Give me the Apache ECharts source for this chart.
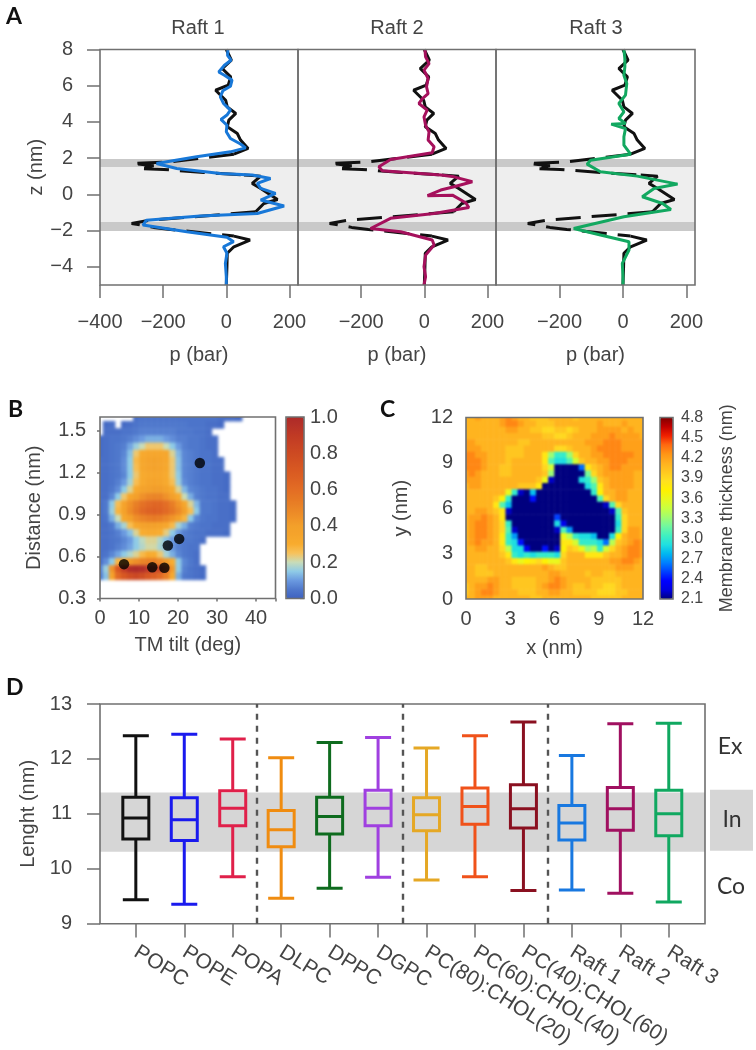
<!DOCTYPE html>
<html><head><meta charset="utf-8">
<style>html,body{margin:0;padding:0;background:#fff}#c{width:756px;height:1050px;filter:blur(0.6px)}
canvas[data-zr-dom-id="zr_-2"]{filter:blur(1.8px);clip-path:path('M100 417H275.5V598.5H100Z')}
canvas[data-zr-dom-id="zr_-1"]{filter:blur(1.1px);clip-path:path('M466 417.5H643V599H466Z')}</style>
<script src="https://cdn.jsdelivr.net/npm/echarts@6/dist/echarts.min.js"></script>
</head><body><div id="c"></div>
<script>
// ---------- Panel A : pressure profiles ----------
const raftNames = ['Raft 1','Raft 2','Raft 3'];
const raftColors = ['#1878d8','#a5105c','#12a860'];
const refZ = [8,7.41,6.95,6.49,6.03,5.75,5.2,4.83,4.47,4.1,3.73,3.36,3,2.54,2.22];
const refP = [0,16,-13,14,6,-34,-2,3,30,8,3,35,45,69,24];
const refDashZ = [2.22,1.8,1.71,1.58,1.43,1.38,1.21,1.07];
const refDashP = [24,-177,-298,-230,-277,-198,-71,56];
const refMidZ = [1.07,1.01,0.61,0.33,-0.28,-0.5,-0.96];
const refMidP = [56,109,82,109,162,119,93];
const refDash2Z = [-0.96,-1.23,-1.42,-1.6,-1.82,-1.93,-2.3];
const refDash2P = [93,-102,-240,-300,-230,-177,24];
const refLowZ = [-2.3,-2.52,-2.89,-3.25,-3.99,-5];
const refLowP = [24,75,24,3,2,0];
const raft1Z = [8,7.68,7.41,7.13,6.76,6.58,6.31,5.97,5.72,5.39,5.02,4.65,4.38,4.14,3.82,3.46,3.09,2.78,2.57,2.35,2.08,1.71,1.43,1.16,1.07,0.88,0.61,0.33,0.06,-0.31,-0.64,-1.05,-1.19,-1.42,-1.69,-2.06,-2.37,-2.61,-2.89,-3.25,-3.81,-4.54,-5];
const raft1P = [5,4,15,-6,-24,-6,18,13,-11,-19,-9,13,2,-17,2,0,13,45,61,13,-94,-221,-157,-19,82,140,98,109,156,109,183,98,-83,-253,-264,-125,2,23,-9,2,-3,0,0];
const raft2Z = [8,7.6,7.22,6.86,6.4,5.94,5.57,5.29,5.02,4.65,4.28,3.82,3.46,3,2.63,2.3,1.93,1.53,1.31,1.07,0.97,0.7,0.42,0.24,-0.07,-0.04,-0.46,-0.72,-1.05,-1.32,-1.88,-2.06,-2.52,-2.79,-3.35,-3.99,-4.54,-5];
const raft2P = [2,4,15,-1,12,7,12,-6,-17,9,-1,4,15,12,31,25,-107,-144,-133,52,94,152,94,52,10,89,131,141,31,-107,-170,-75,25,31,4,-1,4,-1];
const raft3Z = [8,7.5,7.04,6.58,6.12,5.48,5.02,4.56,4.19,3.92,3.88,3.64,3.18,2.72,2.22,1.89,1.67,1.25,1.01,0.57,0.33,-0.13,-0.5,-0.83,-1.23,-1.88,-2.24,-2.61,-3.07,-3.81,-4.54,-5];
const raft3P = [3,6,6,3,12,8,-13,3,-13,8,-37,8,3,3,24,-102,-113,-71,45,172,98,61,125,151,3,-155,-71,19,19,-2,0,0];
const raftZ = [raft1Z,raft2Z,raft3Z];
const raftP = [raft1P,raft2P,raft3P];
const zTicks = [-4,-2,0,2,4,6,8];

// ---------- Panel B : density map (percent of maximum, rows top to bottom, -1 = empty) ----------
const tiltStep = ['0.75','2.25','3.75','5.25','6.75','8.25','9.75','11.25','12.75','14.25','15.75','17.25','18.75','20.25','21.75','23.25','24.75','26.25','27.75','29.25','30.75','32.25','33.75','35.25','36.75','38.25','39.75','41.25','42.75','44.25'];
const distStep = ['1.575','1.525','1.475','1.425','1.375','1.325','1.275','1.225','1.175','1.125','1.075','1.025','0.975','0.925','0.875','0.825','0.775','0.725','0.675','0.625','0.575','0.525','0.475','0.425','0.375','0.325'];
const densityRows = [
[-1,-1,-1,-1,-1,-1,3,4,4,4,4,4,4,4,4,4,4,4,4,4,3,3,3,2],
[-1,2,3,-1,2,3,4,5,5,5,5,5,5,5,5,4,4,4,3,3,2],
[-1,3,3,3,4,4,5,6,6,6,6,6,6,5,5,5,4,4,3],
[2,3,4,4,5,6,8,10,12,12,12,10,8,6,6,5,5,4,3,3],
[2,3,4,5,6,11,16,20,24,24,24,20,15,10,6,5,5,4,3,3],
[2,3,4,5,7,14,24,32,34,34,34,34,22,13,7,6,5,4,4,3],
[3,3,4,5,8,15,27,33,36,38,36,34,24,14,7,6,5,4,4,3,3],
[3,3,4,5,8,15,26,33,36,38,36,33,24,14,7,6,5,4,4,3,3],
[3,3,4,5,7,15,24,31,33,34,34,31,24,15,7,6,5,4,4,3,3,2],
[3,3,4,6,10,17,26,32,35,36,35,32,26,16,8,6,5,4,4,3,3,2],
[3,3,5,8,15,22,32,37,40,41,41,38,32,22,13,7,6,5,4,4,3,2],
[3,3,7,15,24,34,40,45,49,50,50,45,40,32,20,12,6,5,4,4,3,3],
[3,5,15,26,36,45,52,58,62,64,64,60,53,44,34,22,13,5,5,4,3,3,2],
[3,5,16,28,38,47,55,62,66,67,66,62,56,48,40,26,15,5,5,4,3,3,2],
[3,4,12,20,33,40,46,50,53,54,53,49,44,38,28,15,7,5,4,4,3,3,2],
[3,3,5,12,17,26,33,37,40,40,38,34,27,17,12,6,5,4,4,3,3,3],
[3,3,4,6,10,14,22,30,32,32,30,23,15,10,6,5,4,4,3,3,3,2],
[3,3,4,5,7,10,15,19,22,22,18,14,10,7,5,5,4,3],
[3,3,4,6,8,11,15,18,21,21,17,13,9,6,5,4,4],
[3,4,7,11,15,18,22,27,31,30,24,17,12,7,5,4,3],
[3,8,15,28,36,42,46,50,52,52,48,42,30,15,7,5,3],
[6,16,44,72,88,98,100,98,92,86,84,68,42,15,6,4,3,2],
[5,14,36,62,72,78,82,78,72,68,62,52,32,12,5,4,3,2],
[],[],[]];
const dotTilt = [6.15,13.4,16.5,17.4,20.3,25.6];
const dotDist = [0.546,0.524,0.52,0.68,0.727,1.27];
const densityColors = ['#3f62c0','#4f78cc','#6b9ae0','#8fcbe6','#c9dcb8','#f7c25b','#f8ac2e','#f5a42b','#f3a02a','#ef9128','#ea8426','#e67824','#e36d24','#de6323','#d95a22','#d35222','#cd4a22','#c74224','#c03a24','#b63228','#ad2a28'];

// ---------- Panel C : membrane thickness (0.1 nm units, rows top to bottom) ----------
const mapCols = ['0.2','0.6','1.0','1.4','1.8','2.2','2.6','3.0','3.4','3.8','4.2','4.6','5.0','5.4','5.8','6.2','6.6','7.0','7.4','7.8','8.2','8.6','9.0','9.4','9.8','10.2','10.6','11.0','11.4','11.8'];
const mapRows = ['11.8','11.4','11.0','10.6','10.2','9.8','9.4','9.0','8.6','8.2','7.8','7.4','7.0','6.6','6.2','5.8','5.4','5.0','4.6','4.2','3.8','3.4','3.0','2.6','2.2','1.8','1.4','1.0','0.6','0.2'];
const thicknessRows = [
[41,41,42,41,41,41,42,43,42,41,41,40,40,40,41,41,41,41,40,41,41,41,41,41,41,41,41,41,41,41],
[41,41,41,41,41,41,42,43,43,42,41,41,40,40,40,41,41,41,41,41,41,41,42,41,41,41,42,41,41,41],
[41,41,41,41,41,41,41,42,42,41,41,40,40,39,39,40,40,39,40,41,41,41,42,42,42,42,41,42,41,41],
[41,41,41,41,41,41,41,41,41,41,41,41,41,40,40,39,39,40,41,41,41,42,42,42,43,42,42,42,42,41],
[42,42,41,41,41,41,41,41,41,40,40,41,41,41,41,41,41,41,41,41,42,42,42,43,43,43,42,42,42,42],
[42,42,42,41,41,41,41,40,40,40,41,41,41,41,41,39,39,40,41,41,41,42,43,43,43,43,42,42,42,42],
[43,43,42,42,41,41,41,40,40,40,41,41,41,38,33,30,30,33,39,41,41,42,42,43,43,43,43,43,42,42],
[43,43,43,42,41,41,41,40,41,41,41,41,41,38,31,29,29,31,35,40,41,41,42,42,43,43,43,42,42,42],
[43,43,43,42,41,41,40,40,41,41,41,41,41,39,35,21,21,21,21,26,38,40,41,42,43,43,42,42,42,42],
[42,43,42,41,41,41,40,40,41,41,41,41,41,40,33,21,21,21,21,21,32,39,41,42,42,42,42,42,41,41],
[42,42,42,41,41,41,41,41,41,41,41,41,40,36,22,21,21,21,21,29,30,33,40,41,42,42,42,42,41,41],
[41,42,42,41,41,41,41,41,41,40,40,40,38,21,21,21,21,21,21,21,29,31,38,41,42,42,42,42,41,41],
[41,41,41,41,41,41,41,36,30,22,21,28,21,21,21,21,21,21,21,21,21,30,37,41,41,42,42,41,41,41],
[41,41,41,41,41,40,37,30,21,21,21,24,21,21,21,21,21,21,21,21,21,21,31,39,41,42,42,41,41,41],
[41,41,41,41,41,38,31,28,21,21,21,21,21,21,21,21,21,21,21,21,21,21,21,22,31,39,41,41,41,41],
[41,41,42,42,41,40,38,22,21,21,21,21,21,21,21,21,21,21,21,21,21,21,21,21,22,31,40,41,41,41],
[41,42,42,43,42,41,38,21,21,21,21,21,21,21,21,25,21,21,21,21,21,21,21,21,21,30,39,41,41,41],
[41,42,43,43,42,41,39,30,21,21,21,21,21,21,21,29,23,21,21,21,21,21,21,21,21,29,39,41,41,41],
[41,42,43,43,42,41,39,31,22,21,21,21,21,21,21,22,31,27,21,21,21,21,21,21,21,30,39,42,42,41],
[41,42,43,43,42,41,38,30,27,21,21,21,21,21,21,21,36,34,30,29,29,28,21,21,29,37,41,42,42,41],
[41,42,43,42,42,41,38,30,29,24,21,21,21,21,21,21,38,38,35,30,30,30,29,26,34,40,41,42,43,42],
[41,41,42,42,41,41,39,34,29,29,23,21,21,24,21,22,37,40,39,36,33,34,30,35,39,41,42,43,43,42],
[41,41,41,41,41,41,40,38,30,29,30,29,30,30,30,29,39,41,41,41,38,38,38,40,41,41,42,43,43,42],
[41,41,41,41,41,41,41,40,38,36,37,38,39,37,36,36,40,41,41,41,41,41,41,41,42,42,43,43,42,41],
[41,41,40,40,41,41,41,41,41,41,41,41,41,42,41,40,40,41,41,41,41,41,41,41,41,42,42,42,41,41],
[41,41,40,40,40,41,41,41,41,41,41,41,41,41,42,42,41,41,41,41,40,41,41,40,40,41,41,41,41,41],
[41,41,41,41,42,42,41,41,40,40,40,40,41,41,42,43,42,41,41,41,41,40,40,40,40,40,41,41,41,41],
[40,41,42,42,43,42,41,41,40,40,40,40,41,42,43,43,42,41,40,40,41,40,40,39,39,40,41,41,41,41],
[40,41,42,43,43,42,41,41,41,40,40,40,41,41,42,42,41,41,40,40,40,40,39,39,39,40,40,41,41,41],
[41,41,42,42,42,41,41,41,41,41,41,40,40,41,41,41,41,41,41,41,41,40,40,40,40,40,41,41,41,41]];
const thicknessColors = ['#00007f','#0000e0','#0000ff','#0040ff','#0080ff','#00b8f0','#20e0e0','#40f0c0','#70f8a0','#a0fc70','#c8ff40','#e8f820','#fff000','#ffe020','#ffc820','#ffb01f','#ff9415','#ff6810','#f02000','#c00000','#800000'];
const thicknessTicks = [2.1,2.4,2.7,3.0,3.3,3.6,3.9,4.2,4.5,4.8];

// ---------- Panel D : boxplots ----------
const lipids = ['POPC','POPE','POPA','DLPC','DPPC','DGPC','PC(80):CHOL(20)','PC(60):CHOL(40)','PC(40):CHOL(60)','Raft 1','Raft 2','Raft 3'];
const boxLow = [9.43,9.35,9.85,9.46,9.64,9.84,9.79,9.85,9.60,9.61,9.55,9.39];
const boxQ1 = [10.54,10.51,10.78,10.40,10.63,10.78,10.69,10.81,10.74,10.52,10.70,10.60];
const boxMed = [10.92,10.89,11.10,10.71,10.95,11.10,10.98,11.13,11.09,10.83,11.09,11.00];
const boxQ3 = [11.30,11.29,11.42,11.06,11.30,11.43,11.29,11.47,11.53,11.15,11.48,11.43];
const boxHigh = [12.42,12.45,12.36,12.02,12.30,12.39,12.20,12.42,12.67,12.06,12.64,12.65];
const boxColors = ['#111111','#1a1aee','#e0204a','#f08c10','#0e6b1e','#a040e0','#e5a825','#f0521a','#8a1020','#1878e0','#a01060','#10a860'];
const groupBreaks = [2.5,5.5,8.5];
const lengthBand = [10.31,11.39];

const F = '"Liberation Sans", Arial, sans-serif';
const TXT = '#444';
const FRAME = '#707070';
const lab = (o)=>Object.assign({color:TXT,fontSize:20,fontFamily:F},o||{});
const minus = v=>String(v).replace('-','\u2212');
const tickLine = {color:FRAME,width:1.5};
const nameSt = lab();

const grids=[],xAxes=[],yAxes=[],series=[];
function addGrid(rect,x,y,frame){
  const i=grids.length;
  grids.push(Object.assign({show:!!frame,z:3,borderColor:FRAME,borderWidth:frame===true?1.6:0,backgroundColor:'transparent',containLabel:false},rect));
  xAxes.push(Object.assign({gridIndex:i,splitLine:{show:false},axisLine:{show:false,onZero:false}},x));
  yAxes.push(Object.assign({gridIndex:i,splitLine:{show:false},axisLine:{show:false,onZero:false}},y));
  return i;
}
const hiddenCat=(data)=>({type:'category',data:data,show:false,boundaryGap:true});

// Panel A
const xTickSets=[[-400,-200,0,200],[-200,0,200],[-200,0,200]];
[100,298,496].forEach((left,k)=>{
  const g=addGrid({left:left,top:49.5,width:k==2?199:198,height:235.5},{
    type:'value',min:-400,max:227,interval:200,
    axisTick:{show:true,length:13,lineStyle:tickLine,customValues:xTickSets[k]},
    axisLabel:Object.assign(lab({margin:27,formatter:minus}),{customValues:xTickSets[k]}),
    name:'p (bar)',nameLocation:'middle',nameGap:60,nameTextStyle:nameSt
  },Object.assign({type:'value',min:-5,max:8},k==0?{
    axisTick:{show:true,length:13,lineStyle:tickLine,customValues:zTicks},
    axisLabel:Object.assign(lab({margin:27,formatter:minus}),{customValues:zTicks}),
    name:'z (nm)',nameLocation:'middle',nameGap:54,nameRotate:90,nameTextStyle:nameSt
  }:{axisTick:{show:false},axisLabel:{show:false}}),true);
  const refStyle={color:'#111',width:3};
  const pair=(zs,ps)=>ps.map((p,i)=>[p,zs[i]]);
  const mk=(data,type)=>({type:'line',xAxisIndex:g,yAxisIndex:g,data:data,symbol:'none',silent:true,z:2,clip:true,lineStyle:Object.assign({},refStyle,type?{type:type}:{})});
  const s0=mk(pair(refZ,refP));
  s0.markArea={silent:true,itemStyle:{color:'#eeeeee'},data:[
    [{yAxis:-1.52},{yAxis:1.52}]
  ]};
  series.push(s0);
  series.push({type:'line',xAxisIndex:g,yAxisIndex:g,data:[],silent:true,z:1,markArea:{silent:true,z:1,itemStyle:{color:'#c9c9c9'},data:[
    [{yAxis:1.52},{yAxis:1.96}],[{yAxis:-2.02},{yAxis:-1.52}]]}});
  series.push(mk(pair(refDashZ,refDashP),[25,11]));
  series.push(mk(pair(refMidZ,refMidP)));
  series.push(mk(pair(refDash2Z,refDash2P),[25,11]));
  series.push(mk(pair(refLowZ,refLowP)));
  series.push({type:'line',name:raftNames[k],xAxisIndex:g,yAxisIndex:g,data:pair(raftZ[k],raftP[k]),symbol:'none',silent:true,z:2,lineStyle:{color:raftColors[k],width:3}});
});

// Panel B
const rectB={left:100,top:417,width:175.5,height:181.5};
const gBh=addGrid({left:97,top:414,width:181.5,height:187.5},hiddenCat(tiltStep),hiddenCat(distStep.slice().reverse()));
const densData=[];
densityRows.forEach((row,j)=>row.forEach((v,i)=>{ if(v>=0) densData.push([i,distStep.length-1-j,v/100]); }));
const heatB=series.length;
series.push({type:'heatmap',xAxisIndex:gBh,yAxisIndex:gBh,data:densData,silent:true,zlevel:-2,z:2,itemStyle:{borderWidth:0}});
const gB=addGrid(rectB,{type:'value',min:0,max:45,interval:10,
    axisTick:{show:true,length:3,lineStyle:tickLine},axisLabel:lab({margin:10,customValues:[0,10,20,30,40]}),
    name:'TM tilt (deg)',nameLocation:'middle',nameGap:37,nameTextStyle:nameSt},
  {type:'value',min:0.3,max:1.6,axisTick:{show:true,length:3,lineStyle:tickLine,customValues:[0.3,0.6,0.9,1.2,1.5]},
    axisLabel:lab({margin:14,customValues:[0.3,0.6,0.9,1.2,1.5],formatter:v=>v.toFixed(1)}),
    name:'Distance (nm)',nameLocation:'middle',nameGap:56,nameRotate:90,nameTextStyle:nameSt},true);
series.push({type:'scatter',xAxisIndex:gB,yAxisIndex:gB,data:dotTilt.map((t,i)=>[t,dotDist[i]]),symbolSize:10.5,silent:true,z:6,itemStyle:{color:'#000'}});
const cbB=addGrid({left:286,top:417,width:18,height:181.5},{type:'value',show:false,min:0,max:1},
  {type:'value',position:'right',min:0,max:1,interval:0.2,axisTick:{show:true,inside:true,length:4,lineStyle:{color:'#444',width:1.2}},axisLabel:lab({margin:6,formatter:v=>v.toFixed(1)})},true);

// Panel C
const rectC={left:466,top:417.5,width:177,height:181.5};
const gCh=addGrid({left:463,top:414.5,width:183,height:187.5},hiddenCat(mapCols),hiddenCat(mapRows.slice().reverse()));
const thickData=[];
thicknessRows.forEach((row,j)=>row.forEach((v,i)=>thickData.push([i,mapRows.length-1-j,v/10])));
const heatC=series.length;
series.push({type:'heatmap',xAxisIndex:gCh,yAxisIndex:gCh,data:thickData,silent:true,zlevel:-1,z:2,itemStyle:{borderWidth:0}});
addGrid(rectC,{type:'value',min:0,max:12,interval:3,axisTick:{show:false},axisLabel:lab({margin:10}),
    name:'x (nm)',nameLocation:'middle',nameGap:39,nameTextStyle:nameSt},
  {type:'value',min:0,max:12,interval:3,axisTick:{show:false},axisLabel:lab({margin:13}),
    name:'y (nm)',nameLocation:'middle',nameGap:55,nameRotate:90,nameTextStyle:nameSt},true);
addGrid({left:660,top:417.5,width:13,height:181.5},{type:'value',show:false,min:0,max:1},
  {type:'value',position:'right',min:2.1,max:4.8,axisTick:{show:false},
   axisLabel:lab({fontSize:16,margin:8,customValues:thicknessTicks,formatter:v=>v.toFixed(1)}),
   name:'Membrane thickness (nm)',nameLocation:'middle',nameGap:45,nameRotate:90,nameTextStyle:lab({fontSize:18})},true);

// Panel D
const rectD={top:704,height:219.7};
const gD=addGrid(Object.assign({left:100,width:605},rectD),{type:'value',min:-0.737,max:11.737,show:false},
  {type:'value',min:9,max:13,interval:1,axisTick:{show:true,length:13,lineStyle:tickLine},axisLabel:lab({margin:28}),
   name:'Lenght (nm)',nameLocation:'middle',nameGap:57,nameRotate:90,nameTextStyle:nameSt},true);
series.push({type:'line',xAxisIndex:gD,yAxisIndex:gD,data:[],silent:true,z:1,
  markArea:{silent:true,z:1,itemStyle:{color:'#d6d6d6'},data:[[{yAxis:lengthBand[0]},{yAxis:lengthBand[1]}]]},
  markLine:{silent:true,symbol:'none',label:{show:false},lineStyle:{color:'#555',width:2.4,type:[6,6]},data:groupBreaks.map(b=>({xAxis:b}))}});
const gDb=addGrid(Object.assign({left:111.6,width:581.4},rectD),{type:'category',data:lipids,boundaryGap:true,
    axisTick:{show:true,alignWithLabel:true,length:14,lineStyle:tickLine},
    axisLabel:lab({fontSize:21,rotate:-32,margin:27,interval:0,hideOverlap:false})},
  {type:'value',min:9,max:13,show:false});
series.push({type:'boxplot',xAxisIndex:gDb,yAxisIndex:gDb,silent:true,z:3,boxWidth:[26,26],
  itemStyle:{color:'transparent',borderWidth:3},
  data:lipids.map((n,i)=>({value:[boxLow[i],boxQ1[i],boxMed[i],boxQ3[i],boxHigh[i]],itemStyle:{color:'transparent',borderColor:boxColors[i],borderWidth:3}}))});
const gDm=addGrid({left:710,width:43,top:704,height:219.7},{type:'value',min:0,max:1,show:false},{type:'value',min:9,max:13,show:false});
series.push({type:'line',xAxisIndex:gDm,yAxisIndex:gDm,data:[],silent:true,z:1,
  markArea:{silent:true,z:1,itemStyle:{color:'#d6d6d6'},data:[[{yAxis:10.33},{yAxis:11.44}]]}});

const letter=(t,x,y)=>({type:'text',x:x,y:y,z:20,style:{text:t,fontFamily:'Lato',fontWeight:'bold',fontSize:23,fill:'#111',textAlign:'left',textVerticalAlign:'middle'}});
const side=(t,x,y)=>({type:'text',x:x,y:y,z:20,style:{text:t,fontFamily:'Lato',fontSize:23,fill:'#333',textAlign:'center',textVerticalAlign:'middle'}});

const titles=[['Raft 1',198],['Raft 2',397],['Raft 3',596]].map(a=>({text:a[0],left:a[1],top:18,textAlign:'center',padding:0,textStyle:lab({fontWeight:'normal'})}));

const chart=echarts.init(document.getElementById('c'),null,{renderer:'canvas',width:756,height:1050});
chart.setOption({
  animation:false,backgroundColor:'#fff',
  title:titles,grid:grids,xAxis:xAxes,yAxis:yAxes,series:series,
  tooltip:{show:false},
  visualMap:[
    {type:'continuous',seriesIndex:heatB,min:0,max:1,dimension:2,calculable:false,realtime:false,left:286,top:417,itemWidth:18,itemHeight:181.5,padding:0,showLabel:false,text:null,hoverLink:false,z:1,inRange:{color:densityColors}},
    {type:'continuous',seriesIndex:heatC,min:2.1,max:4.8,dimension:2,calculable:false,realtime:false,left:660,top:417.5,itemWidth:13,itemHeight:181.5,padding:0,showLabel:false,text:null,hoverLink:false,z:1,inRange:{color:thicknessColors}}
  ],
  graphic:[letter('A',6,17),letter('B',8,410),letter('C',380,410),letter('D',6,688),side('Ex',730,747),side('In',732,820),side('Co',731,887)]
});
</script></body></html>
